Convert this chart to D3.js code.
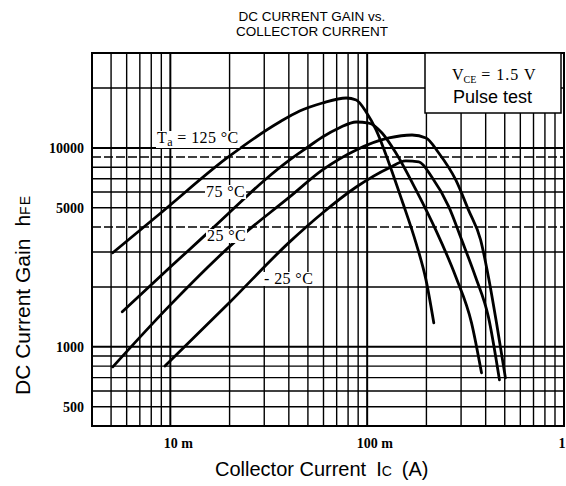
<!DOCTYPE html>
<html><head><meta charset="utf-8">
<script src="https://cdn.jsdelivr.net/npm/d3@7"></script>
<style>body{margin:0;background:#fff}svg{display:block}text{white-space:pre}</style>
</head><body>
<svg id="c" width="566" height="486"></svg>
<script>
// ---- data ----
const xTickValues = [0.01, 0.1, 1];
const xTickLabels = ["10 m", "100 m", "1"];
const yTickValues = [500, 1000, 5000, 10000];
const yTickLabels = ["500", "1000", "5000", "10000"];
const seriesNames = ["125 °C", "75 °C", "25 °C", "- 25 °C"];

const ic125  = [0.0051, 0.0092, 0.0194, 0.0359, 0.0454, 0.0593, 0.0783, 0.088, 0.0988, 0.111, 0.129, 0.150, 0.177, 0.199, 0.218];
const hfe125 = [2970, 4820, 8900, 13500, 15330, 16820, 17820, 17410, 15150, 12310, 8400, 5470, 3330, 2170, 1320];

const ic75  = [0.0057, 0.010, 0.0147, 0.0201, 0.0302, 0.0404, 0.0492, 0.0593, 0.072, 0.088, 0.102, 0.119, 0.140, 0.177, 0.223, 0.282, 0.339, 0.381];
const hfe75 = [1500, 2520, 3570, 4765, 6900, 8700, 9990, 11350, 12600, 13500, 13340, 11890, 9430, 6150, 3870, 2250, 1320, 740];

const ic25  = [0.0051, 0.010, 0.0218, 0.0404, 0.0593, 0.088, 0.129, 0.169, 0.199, 0.231, 0.282, 0.327, 0.377, 0.413, 0.454, 0.504];
const hfe25 = [793, 1625, 3450, 5670, 7750, 9770, 11220, 11610, 11220, 9430, 6900, 4880, 3450, 2250, 1320, 698];

const icM25  = [0.0094, 0.0201, 0.0404, 0.0593, 0.088, 0.129, 0.157, 0.183, 0.213, 0.260, 0.302, 0.355, 0.413, 0.470];
const hfeM25 = [802, 1680, 3370, 4710, 6360, 7930, 8600, 8500, 7140, 5050, 3450, 2250, 1414, 682];

// ---- chart ----
const svg = d3.select("#c");
const L = 92, R = 564, T = 53, B = 426;
const x = d3.scaleLog().domain([0.004, 1]).range([L, R]);
const y = d3.scaleLog().domain([400, 30000]).range([B, T]);

// grid
const g = svg.append("g");
const xs = [], ys = [];
[0.001, 0.01, 0.1].forEach(d => { for (let k = 1; k <= 9; k++) { const v = k * d; if (v > 0.0041 && v < 0.99) xs.push({v, major: k === 1}); } });
[100, 1000, 10000].forEach(d => { for (let k = 1; k <= 9; k++) { const v = k * d; if (v > 401 && v < 29900) ys.push({v, major: k === 1}); } });
g.selectAll("line.v").data(xs).join("line")
  .attr("x1", d => x(d.v)).attr("x2", d => x(d.v)).attr("y1", T).attr("y2", B)
  .attr("stroke", "#000").attr("stroke-width", d => d.major ? 2 : 1.4);
g.selectAll("line.h").data(ys).join("line")
  .attr("y1", d => y(d.v)).attr("y2", d => y(d.v)).attr("x1", L).attr("x2", R)
  .attr("stroke", "#000").attr("stroke-width", d => d.major ? 2 : 1.4)
  .attr("stroke-dasharray", d => (d.v === 9000 || d.v === 4000) ? "9,3" : null);

// frame
svg.append("rect").attr("x", L).attr("y", T).attr("width", R - L).attr("height", B - T)
  .attr("fill", "none").attr("stroke", "#000").attr("stroke-width", 2);

// legend box
svg.append("rect").attr("x", 425).attr("y", T).attr("width", 136).attr("height", 60)
  .attr("fill", "#fff").attr("stroke", "#000").attr("stroke-width", 1.5);
const vt = svg.append("text").attr("x", 452).attr("y", 80)
  .attr("font-family", "Liberation Serif, serif").attr("font-size", 16);
vt.append("tspan").text("V");
vt.append("tspan").attr("font-size", 10).attr("dy", 3).text("CE");
vt.append("tspan").attr("dy", -3).attr("letter-spacing", 1).text(" = 1.5 V");
svg.append("text").attr("x", 453).attr("y", 103)
  .attr("font-family", "Liberation Sans, Arial, sans-serif").attr("font-size", 18).text("Pulse test");

// curves
const line = d3.line().x(d => x(d[0])).y(d => y(d[1])).curve(d3.curveMonotoneX);
const series = [
  d3.zip(ic125, hfe125), d3.zip(ic75, hfe75), d3.zip(ic25, hfe25), d3.zip(icM25, hfeM25)
];
svg.append("g").selectAll("path").data(series).join("path")
  .attr("d", line).attr("fill", "none").attr("stroke", "#000").attr("stroke-width", 2.8)
  .attr("stroke-linecap", "round");

// curve labels with white backing
function label(xp, yp, parts) {
  const t = svg.append("text").attr("x", xp).attr("y", yp)
    .attr("font-family", "Liberation Serif, serif").attr("font-size", 16).attr("letter-spacing", 0.4);
  parts.forEach(p => {
    const s = t.append("tspan").text(p.t);
    if (p.sub) s.attr("font-size", 12).attr("dy", 3);
    if (p.up) s.attr("dy", -3);
  });
  const bb = t.node().getBBox();
  svg.insert("rect", () => t.node()).attr("x", bb.x - 1).attr("y", bb.y + 2)
    .attr("width", bb.width + 2).attr("height", bb.height - 3).attr("fill", "#fff");
}
label(157, 143, [{t: "T"}, {t: "a", sub: true}, {t: " = " + seriesNames[0], up: true}]);
label(206, 197, [{t: seriesNames[1]}]);
label(207, 241, [{t: seriesNames[2]}]);
label(264, 284, [{t: seriesNames[3]}]);

// axes
const xa = svg.append("g").attr("transform", `translate(0,${B})`)
  .call(d3.axisBottom(x).tickValues(xTickValues).tickFormat((d, i) => xTickLabels[i]).tickSize(0).tickPadding(12));
xa.select(".domain").remove();
xa.selectAll("text").attr("font-family", "Liberation Serif, serif").attr("font-size", 14)
  .attr("font-weight", "bold").attr("fill", "#000")
  .attr("text-anchor", (d, i) => i === xTickLabels.length - 1 ? "end" : "start")
  .attr("x", (d, i) => i === xTickLabels.length - 1 ? 1 : -xTickLabels[i].split(" ")[0].length * 3.6);

const ya = svg.append("g").attr("transform", `translate(${L},0)`)
  .call(d3.axisLeft(y).tickValues(yTickValues).tickFormat((d, i) => yTickLabels[i]).tickSize(0).tickPadding(8));
ya.select(".domain").remove();
ya.selectAll("text").attr("font-family", "Liberation Serif, serif").attr("font-size", 14)
  .attr("font-weight", "bold").attr("fill", "#000").attr("dy", "0.35em");

// titles
const tt = svg.append("text").attr("x", 312).attr("text-anchor", "middle")
  .attr("font-family", "Liberation Sans, Arial, sans-serif").attr("font-size", 13.5).attr("fill", "#000");
tt.append("tspan").attr("x", 312).attr("y", 21).text("DC CURRENT GAIN vs.");
tt.append("tspan").attr("x", 312).attr("y", 36).text("COLLECTOR CURRENT");

const xl = svg.append("text").attr("x", 215).attr("y", 476)
  .attr("font-family", "Liberation Sans, Arial, sans-serif").attr("font-size", 20).attr("fill", "#000");
xl.append("tspan").text("Collector Current");
xl.append("tspan").attr("dx", 10).text("I");
xl.append("tspan").attr("font-size", 14).text("C");
xl.append("tspan").attr("dx", 10).text("(A)");

const yl = svg.append("text").attr("transform", "translate(30,395) rotate(-90)")
  .attr("font-family", "Liberation Sans, Arial, sans-serif").attr("font-size", 21).attr("fill", "#000");
yl.append("tspan").text("DC Current Gain");
yl.append("tspan").attr("dx", 12).text("h");
yl.append("tspan").attr("font-size", 14).attr("letter-spacing", 1).text("FE");
</script>
</body></html>
